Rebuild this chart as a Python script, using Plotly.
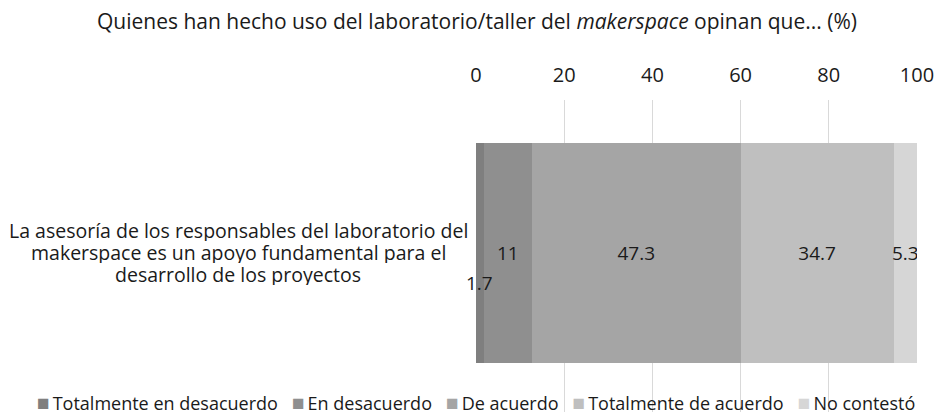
import plotly.graph_objects as go

# Data
question_lines = ["La asesoría de los responsables del laboratorio del",
                  "makerspace es un apoyo fundamental para el",
                  "desarrollo de los proyectos"]
categories = ["Totalmente en desacuerdo", "En desacuerdo", "De acuerdo",
              "Totalmente de acuerdo", "No contestó"]
values = [1.7, 11, 47.3, 34.7, 5.3]
colors = ["#7f7f7f", "#8f8f8f", "#a5a5a5", "#bfbfbf", "#d6d6d6"]
x_ticks = [0, 20, 40, 60, 80, 100]

font = "Open Sans, Noto Sans, sans-serif"
ink = "#1a1a1a"

fig = go.Figure()
for i, (name, val, col) in enumerate(zip(categories, values, colors)):
    fig.add_trace(go.Bar(
        y=["q"], x=[val], name=name, orientation="h",
        marker=dict(color=col, line=dict(width=0)),
        text=[str(val)] if i > 0 else None,
        textposition="inside", insidetextanchor="middle",
        textangle=0, constraintext="none",
        textfont=dict(family=font, size=19, color=ink),
        hoverinfo="name+x",
    ))

# the small first segment gets its label below the centre line
fig.add_annotation(x=values[0] / 2, y="q", text=str(values[0]), showarrow=False,
                   yshift=-30, font=dict(family=font, size=19, color=ink))

# category label, centred lines with tighter spacing
n = len(question_lines)
for k, line in enumerate(question_lines):
    fig.add_annotation(x=0, xref="paper", y="q", text=line, showarrow=False,
                       xanchor="center", xshift=-238, yshift=((n - 1) / 2 - k) * 22,
                       height=21, borderpad=0,
                       font=dict(family=font, size=19.5, color=ink))

# legend row built from the categories and colours
gap = "\u00a0\u00a0\u00a0"
legend_text = gap.join(
    f'<span style="color:{c};font-size:21px">■</span>\u2009{name}'
    for name, c in zip(categories, colors)
)
fig.add_annotation(x=0, xref="paper", y=(412 - 402) / 312, yref="paper",
                   text=legend_text, showarrow=False, xanchor="center", yanchor="middle",
                   borderpad=0,
                   font=dict(family=font, size=18, color=ink))

fig.update_layout(
    barmode="stack",
    width=936, height=414,
    margin=dict(l=476, r=19, t=100, b=2),
    plot_bgcolor="white", paper_bgcolor="white",
    title=dict(text="Quienes han hecho uso del laboratorio/taller del <i>makerspace</i> opinan que... (%)",
               x=477 / 936, xanchor="center", y=1 - 22 / 414, yanchor="middle",
               font=dict(family=font, size=21, color=ink)),
    xaxis=dict(side="top", range=[0, 100], tickvals=x_ticks,
               showgrid=True, gridcolor="#d9d9d9", gridwidth=1, zeroline=False,
               ticks="", ticklabelstandoff=13,
               tickfont=dict(family=font, size=20, color=ink)),
    yaxis=dict(type="category", range=[-0.578, 0.556], showticklabels=False,
               showgrid=False, zeroline=False),
    bargap=0.2,
    showlegend=False,
)

fig.write_html("out.html", config={"displayModeBar": False},
               post_script="document.body.style.margin='0px';")
